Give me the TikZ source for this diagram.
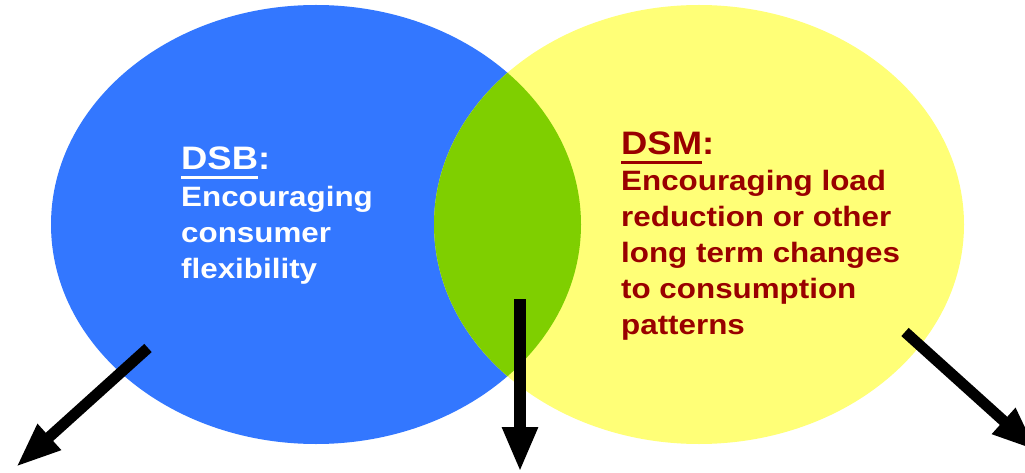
\documentclass[tikz,border=0pt]{standalone}
\usepackage{fontspec}
\setmainfont[FakeStretch=1.12]{Liberation Sans}
\usetikzlibrary{arrows.meta,positioning}

\definecolor{dsbblue}{RGB}{51,119,255}
\definecolor{dsmyellow}{RGB}{255,255,119}
\definecolor{overlapgreen}{RGB}{127,207,0}
\definecolor{dsmred}{RGB}{153,0,0}

% underlined heading word, rule below the baseline
\newcommand{\headword}[1]{\setbox0\hbox{#1}\rlap{\rule[-9.3pt]{\wd0}{3.3pt}}\box0}

\begin{document}
\begin{tikzpicture}[x=1pt,y=-1pt,
    bigarrow/.style={-{Triangle[length=45pt,width=32pt]}, line width=11pt},
    headtext/.style={anchor=base west, inner sep=0pt, font=\fontsize{32.5}{36}\selectfont\bfseries},
    bodytext/.style={anchor=base west, inner sep=0pt, align=left, font=\fontsize{28}{36}\selectfont\bfseries}]
    \useasboundingbox (0,0) rectangle (1025,473);

    % the two sets and their overlap
    \fill[dsbblue]   (316,224.5) ellipse [x radius=265pt, y radius=219.5pt];
    \fill[dsmyellow] (699,224.5) ellipse [x radius=265pt, y radius=219.5pt];
    \begin{scope}
      \clip (316,224.5) ellipse [x radius=265pt, y radius=219.5pt];
      \fill[overlapgreen] (699,224.5) ellipse [x radius=265pt, y radius=219.5pt];
    \end{scope}

    % base of a multi-line node = baseline of its last line
    \node[headtext, text=white] (dsbhead) at (181,170) {\headword{DSB}:};
    \node[bodytext, text=white] (dsbbody) at (181,278) {Encouraging\\consumer\\flexibility};

    \node[headtext, text=dsmred] (dsmhead) at (621,155) {\headword{DSM}:};
    \node[bodytext, text=dsmred] (dsmbody) at (621,334) {Encouraging load\\reduction or other\\long term changes\\to consumption\\patterns};

    \coordinate (dsbstart) at (148,348);
    \coordinate (dsbend)   at (16,467);
    \coordinate (bothstart) at (520,299);
    \coordinate (bothend)   at (520,472);
    \coordinate (dsmstart) at (905,332);
    \coordinate (dsmend)   at (1037,451);

    \draw[bigarrow] (dsbstart) -- (dsbend);
    \draw[bigarrow, line width=12pt, -{Triangle[length=45pt,width=33pt]}] (bothstart) -- (bothend);
    \draw[bigarrow] (dsmstart) -- (dsmend);
\end{tikzpicture}
\end{document}
